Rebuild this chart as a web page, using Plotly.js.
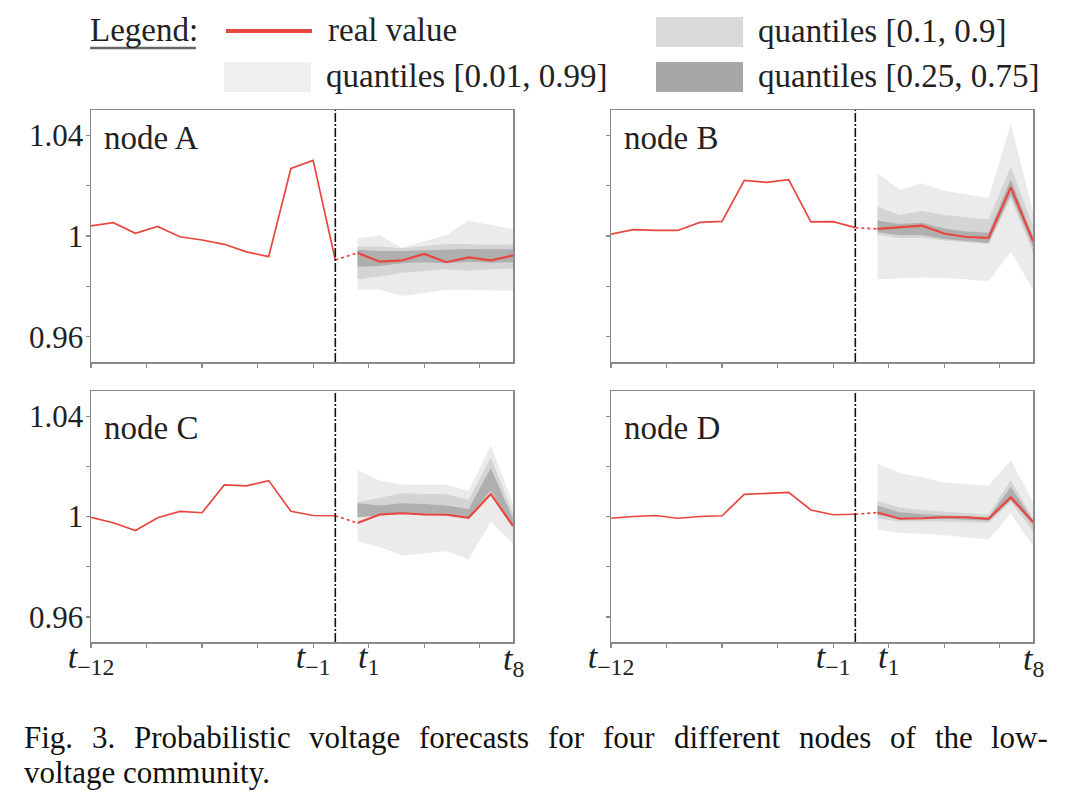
<!DOCTYPE html>
<html>
<head>
<meta charset="utf-8">
<script src="https://cdn.plot.ly/plotly-3.0.1.min.js"></script>
<style>
  html, body { margin: 0; padding: 0; background: #fff; }
  #chart { width: 1068px; height: 804px; }
</style>
</head>
<body>
<div id="chart"></div>
<script>
// Voltage (p.u.) for four nodes: 12 measured steps, then 8 forecast steps.
const NODE_NAMES = ['node A', 'node B', 'node C', 'node D'];

// Measured history t-12 .. t-1 (last point sits on the forecast origin)
const histA = [1.0040, 1.0053, 1.0011, 1.0038, 0.9997, 0.9984, 0.9967, 0.9937, 0.9918, 1.0268, 1.0300, 0.9905];
const histB = [1.0007, 1.0025, 1.0022, 1.0022, 1.0054, 1.0058, 1.0221, 1.0213, 1.0224, 1.0056, 1.0057, 1.0033];
const histC = [0.9997, 0.9975, 0.9944, 0.9995, 1.0020, 1.0015, 1.0126, 1.0122, 1.0143, 1.0021, 1.0004, 1.0003];
const histD = [0.9993, 1.0000, 1.0004, 0.9993, 1.0000, 1.0003, 1.0088, 1.0092, 1.0096, 1.0026, 1.0007, 1.0009];

// Real value over the forecast horizon t1 .. t8
const realA = [0.9933, 0.9898, 0.9903, 0.9929, 0.9896, 0.9915, 0.9903, 0.9923];
const realB = [1.0028, 1.0034, 1.0041, 1.0010, 0.9996, 0.9993, 1.0193, 0.9980];
const realC = [0.9974, 1.0008, 1.0013, 1.0008, 1.0007, 0.9995, 1.0090, 0.9962];
const realD = [1.0016, 0.9991, 0.9993, 0.9997, 0.9997, 0.9991, 1.0077, 0.9978];

// Quantiles [0.01, 0.99]
const q01A = [0.9788, 0.9788, 0.9762, 0.9775, 0.9786, 0.9786, 0.9786, 0.9783];
const q99A = [0.9991, 1.0003, 0.9953, 0.9977, 1.0004, 1.0061, 1.0044, 1.0027];
const q01B = [0.9828, 0.9832, 0.9835, 0.9832, 0.9828, 0.9819, 0.9938, 0.9788];
const q99B = [1.0249, 1.0183, 1.0209, 1.0180, 1.0165, 1.0152, 1.0444, 1.0095];
const q01C = [0.9901, 0.9878, 0.9845, 0.9854, 0.9862, 0.9829, 0.9978, 0.9892];
const q99C = [1.0183, 1.0143, 1.0127, 1.0126, 1.0126, 1.0103, 1.0284, 1.0050];
const q01D = [0.9947, 0.9934, 0.9931, 0.9925, 0.9918, 0.9908, 1.0013, 0.9881];
const q99D = [1.0211, 1.0172, 1.0156, 1.0135, 1.0129, 1.0123, 1.0224, 1.0059];

// Quantiles [0.1, 0.9]
const q10A = [0.9828, 0.9839, 0.9854, 0.9862, 0.9868, 0.9862, 0.9868, 0.9870];
const q90A = [0.9958, 0.9958, 0.9951, 0.9958, 0.9968, 0.9968, 0.9964, 0.9968];
const q10B = [1.0005, 0.9992, 0.9993, 0.9982, 0.9975, 0.9968, 1.0150, 0.9935];
const q90B = [1.0116, 1.0083, 1.0099, 1.0083, 1.0074, 1.0066, 1.0275, 1.0040];
const q10C = [0.9997, 1.0004, 1.0011, 1.0008, 1.0008, 0.9997, 1.0130, 0.9958];
const q90C = [1.0057, 1.0074, 1.0093, 1.0090, 1.0090, 1.0066, 1.0235, 1.0011];
const q10D = [0.9991, 0.9980, 0.9980, 0.9980, 0.9978, 0.9974, 1.0059, 0.9941];
const q90D = [1.0062, 1.0036, 1.0026, 1.0020, 1.0013, 1.0007, 1.0145, 0.9993];

// Quantiles [0.25, 0.75]
const q25A = [0.9878, 0.9881, 0.9892, 0.9896, 0.9892, 0.9898, 0.9894, 0.9896];
const q75A = [0.9945, 0.9940, 0.9940, 0.9943, 0.9947, 0.9948, 0.9947, 0.9948];
const q25B = [1.0015, 1.0003, 1.0004, 0.9988, 0.9979, 0.9972, 1.0165, 0.9958];
const q75B = [1.0062, 1.0048, 1.0053, 1.0030, 1.0018, 1.0013, 1.0225, 0.9998];
const q25C = [0.9997, 1.0004, 1.0011, 1.0008, 1.0007, 0.9997, 1.0103, 0.9962];
const q75C = [1.0053, 1.0044, 1.0053, 1.0050, 1.0044, 1.0030, 1.0193, 0.9991];
const q25D = [1.0007, 0.9991, 0.9989, 0.9991, 0.9988, 0.9983, 1.0066, 0.9967];
const q75D = [1.0044, 1.0017, 1.0009, 1.0004, 1.0000, 0.9996, 1.0119, 0.9983];

// Axis ticks
const X_TICKS = [0, 2.5, 5, 7.5, 10, 12.5, 15, 17.5];
const X_TICK_TEXT = ['<i>t</i><sub>−12</sub>', '', '', '', '<i>t</i><sub>−1</sub>', '<i>t</i><sub>1</sub>', '', ''];
const X_END_LABEL = '<i>t</i><sub>8</sub>';
const Y_TICKS = [0.96, 0.98, 1.00, 1.02, 1.04];
const Y_TICK_TEXT = ['0.96', '', '1', '', '1.04'];
const Y_RANGE = [0.95, 1.05];

const LEGEND_TITLE = 'Legend:';
const LEGEND_LABELS = ['real value', 'quantiles [0.01, 0.99]', 'quantiles [0.1, 0.9]', 'quantiles [0.25, 0.75]'];
const CAPTION_LINES = [
  'Fig. 3.  Probabilistic voltage forecasts for four different nodes of the low-',
  'voltage community.'
];

const nodes = [
  { hist: histA, real: realA, bands: [[q01A, q99A], [q10A, q90A], [q25A, q75A]] },
  { hist: histB, real: realB, bands: [[q01B, q99B], [q10B, q90B], [q25B, q75B]] },
  { hist: histC, real: realC, bands: [[q01C, q99C], [q10C, q90C], [q25C, q75C]] },
  { hist: histD, real: realD, bands: [[q01D, q99D], [q10D, q90D], [q25D, q75D]] }
];

const RED = '#e8473f';
const BAND_COLORS = ['#ebebeb', '#d4d4d4', '#afafaf'];
const LEGEND_BOX_COLORS = ['#efefef', '#d9d9d9', '#a7a7a7'];
const FRAME = '#8a8a8a';
const TEXT = '#222222';
const FONT = 'Liberation Serif';

// Page geometry in pixels -> paper fractions
const W = 1068, H = 804;
const px = v => v / W;
const py = v => 1 - v / H;
const COLS = [[91, 513], [611, 1033]];
const ROWS = [[110, 362], [391, 642]];

const traces = [];
const layout = {
  width: W, height: H,
  margin: { l: 0, r: 0, t: 0, b: 0 },
  paper_bgcolor: '#fff', plot_bgcolor: '#fff',
  showlegend: false,
  font: { family: FONT, color: TEXT },
  shapes: [], annotations: []
};

nodes.forEach((node, i) => {
  const n = i + 1;
  const xa = n === 1 ? 'x' : 'x' + n;
  const ya = n === 1 ? 'y' : 'y' + n;
  const col = COLS[i % 2], row = ROWS[Math.floor(i / 2)];
  const isBottom = i >= 2, isLeft = i % 2 === 0;

  const histX = node.hist.map((_, k) => k);
  const origin = histX[histX.length - 1];
  const fcX = node.real.map((_, k) => origin + 1 + k);
  const xEnd = fcX[fcX.length - 1];

  // Quantile bands, widest first
  node.bands.forEach(([lo, hi], b) => {
    traces.push({
      type: 'scatter', mode: 'lines', xaxis: xa, yaxis: ya,
      x: fcX.concat(fcX.slice().reverse()),
      y: hi.concat(lo.slice().reverse()),
      fill: 'toself', fillcolor: BAND_COLORS[b],
      line: { width: 0, color: BAND_COLORS[b] }, hoverinfo: 'skip'
    });
  });

  // Measured history
  traces.push({
    type: 'scatter', mode: 'lines', xaxis: xa, yaxis: ya,
    x: histX, y: node.hist, line: { color: RED, width: 1.7 }
  });
  // Link from last measurement to first forecast step
  traces.push({
    type: 'scatter', mode: 'lines', xaxis: xa, yaxis: ya,
    x: [origin, fcX[0]], y: [node.hist[node.hist.length - 1], node.real[0]],
    line: { color: RED, width: 1.7, dash: 'dot' }
  });
  // Real value over the horizon
  traces.push({
    type: 'scatter', mode: 'lines', xaxis: xa, yaxis: ya,
    x: fcX, y: node.real, line: { color: RED, width: 2.2 }
  });

  layout['xaxis' + (n === 1 ? '' : n)] = {
    domain: [px(col[0]), px(col[1])], anchor: ya,
    range: [0, xEnd], showgrid: false, zeroline: false,
    showline: true, mirror: true, linecolor: FRAME, linewidth: 1.5,
    ticks: 'outside', ticklen: 4, tickwidth: 1.2, tickcolor: FRAME,
    tickmode: 'array', tickvals: X_TICKS,
    ticktext: isBottom ? X_TICK_TEXT : X_TICKS.map(() => ''),
    tickfont: { family: FONT, size: 34, color: TEXT },
    ticklabelstandoff: -20,
    fixedrange: true
  };
  layout['yaxis' + (n === 1 ? '' : n)] = {
    domain: [py(row[1]), py(row[0])], anchor: xa,
    range: Y_RANGE, showgrid: false, zeroline: false,
    showline: true, mirror: true, linecolor: FRAME, linewidth: 1.5,
    ticks: 'outside', ticklen: 4, tickwidth: 1.2, tickcolor: FRAME,
    tickmode: 'array', tickvals: Y_TICKS,
    ticktext: isLeft ? Y_TICK_TEXT : Y_TICKS.map(() => ''),
    tickfont: { family: FONT, size: 31, color: TEXT },
    ticklabelstandoff: -4,
    fixedrange: true
  };

  // Forecast origin marker
  layout.shapes.push({
    type: 'line', xref: xa, yref: ya + ' domain',
    x0: origin, x1: origin, y0: 0, y1: 1,
    line: { color: '#111', width: 1.6, dash: '9px,2px,2px,2px' }
  });

  // Panel label
  layout.annotations.push({
    xref: 'paper', yref: 'paper', x: px(col[0] + 11), y: py(isBottom ? 428 : 138),
    xanchor: 'left', yanchor: 'middle', showarrow: false,
    text: NODE_NAMES[i], font: { family: FONT, size: 33, color: TEXT }
  });

  if (isBottom) {
    layout.annotations.push({
      xref: xa, yref: 'paper', x: xEnd, y: py(row[1] - 4),
      xanchor: 'center', yanchor: 'top', showarrow: false,
      text: X_END_LABEL, font: { family: FONT, size: 34, color: TEXT }
    });
  }
});

// Legend block
const legText = (t, x, y) => ({
  xref: 'paper', yref: 'paper', x: px(x), y: py(y), xanchor: 'left', yanchor: 'middle',
  showarrow: false, text: t, font: { family: FONT, size: 33, color: TEXT }
});
layout.annotations.push(legText(LEGEND_TITLE, 88, 30));
layout.shapes.push({ type: 'line', xref: 'paper', yref: 'paper',
  x0: px(90), x1: px(196), y0: py(48), y1: py(48), line: { color: '#666', width: 2.5 } });
layout.shapes.push({ type: 'line', xref: 'paper', yref: 'paper',
  x0: px(226), x1: px(312), y0: py(31), y1: py(31), line: { color: RED, width: 4 } });
layout.annotations.push(legText(LEGEND_LABELS[0], 326, 30));
const boxes = [[224, 62], [656, 17], [656, 62]];
boxes.forEach(([bx, by], b) => {
  layout.shapes.push({ type: 'rect', xref: 'paper', yref: 'paper',
    x0: px(bx), x1: px(bx + 87), y0: py(by + 30), y1: py(by),
    fillcolor: LEGEND_BOX_COLORS[b], line: { width: 0 } });
  layout.annotations.push(legText(LEGEND_LABELS[b + 1], bx + 100, by + 14));
});

// Caption: first line justified across the column, last line set ragged
const CAP_SIZE = 31, CAP_LEFT = 22, CAP_RIGHT = 1046;
const ctx = document.createElement('canvas').getContext('2d');
ctx.font = CAP_SIZE + 'px "' + FONT + '"';
CAPTION_LINES.forEach((line, k) => {
  const y = py(737 + 35 * k);
  const capFont = { family: FONT, size: CAP_SIZE, color: '#111' };
  if (k < CAPTION_LINES.length - 1) {
    const words = line.split(/\s+/);
    const widths = words.map(w => ctx.measureText(w).width);
    const gap = (CAP_RIGHT - CAP_LEFT - widths.reduce((a, b) => a + b, 0)) / (words.length - 1);
    let cx = CAP_LEFT;
    words.forEach((w, j) => {
      layout.annotations.push({
        xref: 'paper', yref: 'paper', x: px(cx), y: y,
        xanchor: 'left', yanchor: 'middle', showarrow: false, text: w, font: capFont
      });
      cx += widths[j] + gap;
    });
  } else {
    layout.annotations.push({
      xref: 'paper', yref: 'paper', x: px(CAP_LEFT), y: y,
      xanchor: 'left', yanchor: 'middle', showarrow: false, text: line, font: capFont
    });
  }
});

Plotly.newPlot('chart', traces, layout, { staticPlot: true, displayModeBar: false });
</script>
</body>
</html>
